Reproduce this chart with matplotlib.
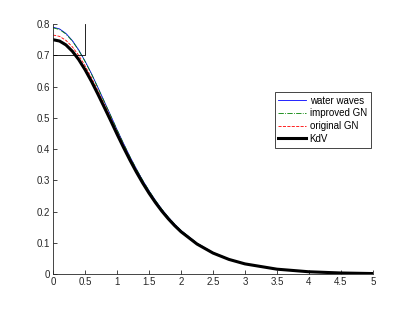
import numpy as np
import matplotlib
matplotlib.use('Agg')
import matplotlib.pyplot as plt

plt.rcParams['font.family'] = ['Liberation Sans', 'DejaVu Sans']

# sample positions
x = [0, 0.1, 0.2, 0.3, 0.4, 0.5, 0.6, 0.7, 0.8, 0.9, 1.0,
     1.1, 1.2, 1.3, 1.4, 1.5, 1.6, 1.7, 1.8, 1.9, 2.0,
     2.25, 2.5, 2.75, 3.0, 3.5, 4.0, 4.5, 5.0]

# values
water = [0.790, 0.7846, 0.7701, 0.7474, 0.7173, 0.6812, 0.6412, 0.5970, 0.5524, 0.5073, 0.4618,
         0.4181, 0.3762, 0.3369, 0.3003, 0.2666, 0.2357, 0.2075, 0.1824, 0.1598, 0.1396,
         0.0988, 0.0690, 0.0479, 0.0333, 0.0159, 0.0075, 0.0035, 0.0017]
improved = [0.788, 0.7826, 0.7683, 0.7458, 0.7159, 0.6800, 0.6402, 0.5962, 0.5518, 0.5068, 0.4614,
            0.4178, 0.3760, 0.3368, 0.3002, 0.2666, 0.2357, 0.2075, 0.1824, 0.1598, 0.1396,
            0.0988, 0.0690, 0.0479, 0.0333, 0.0159, 0.0075, 0.0035, 0.0017]
original = [0.765, 0.7607, 0.7480, 0.7273, 0.6998, 0.6663, 0.6283, 0.5865, 0.5436, 0.5000, 0.4553,
            0.4124, 0.3712, 0.3323, 0.2961, 0.2627, 0.2322, 0.2045, 0.1797, 0.1573, 0.1374,
            0.0974, 0.0682, 0.0475, 0.0330, 0.0158, 0.0074, 0.0035, 0.0017]
kdv = [0.750, 0.7458, 0.7334, 0.7132, 0.6864, 0.6537, 0.6165, 0.5757, 0.5337, 0.4911, 0.4475,
       0.4055, 0.3652, 0.3271, 0.2916, 0.2588, 0.2288, 0.2015, 0.1771, 0.1551, 0.1355,
       0.0961, 0.0673, 0.0469, 0.0326, 0.0157, 0.0074, 0.0035, 0.0017]

# little box in the corner
box_x = [0, 0.5, 0.5]
box_y = [0.7, 0.7, 0.8]

fig = plt.figure(figsize=(4.12, 3.09), dpi=100)
ax = fig.add_axes([0.129, 0.113, 0.776, 0.809])

ax.plot(x, water, color='b', lw=0.6, label='water waves')
ax.plot(x, improved, color=(0, 0.5, 0), ls='-.', lw=0.6, label='improved GN')
ax.plot(x, original, color='r', ls='--', lw=0.6, label='original GN')
ax.plot(x, kdv, color='k', lw=2.2, label='KdV')
ax.plot(box_x, box_y, color='k', lw=0.6)

ax.set_xlim(0, 5)
ax.set_ylim(0, 0.8)
ax.set_xticks(np.arange(0, 5.01, 0.5))
ax.set_xticklabels(['0', '0.5', '1', '1.5', '2', '2.5', '3', '3.5', '4', '4.5', '5'])
ax.set_yticks(np.arange(0, 0.81, 0.1))
ax.set_yticklabels(['0', '0.1', '0.2', '0.3', '0.4', '0.5', '0.6', '0.7', '0.8'])
ax.tick_params(direction='in', length=3, width=0.6, labelsize=7, colors='#262626', pad=2)
ax.spines['top'].set_visible(False)
ax.spines['right'].set_visible(False)
for s in ['left', 'bottom']:
    ax.spines[s].set_color('#262626')
    ax.spines[s].set_linewidth(0.6)

leg = ax.legend(loc='upper right', bbox_to_anchor=(0.993, 0.729), fontsize=7,
                handlelength=2.8, handletextpad=0.4, labelspacing=0.28,
                borderpad=0.4, fancybox=False, framealpha=1, borderaxespad=0)
leg.get_frame().set_edgecolor('#262626')
leg.get_frame().set_linewidth(0.6)

plt.savefig('out.png', dpi=100)
